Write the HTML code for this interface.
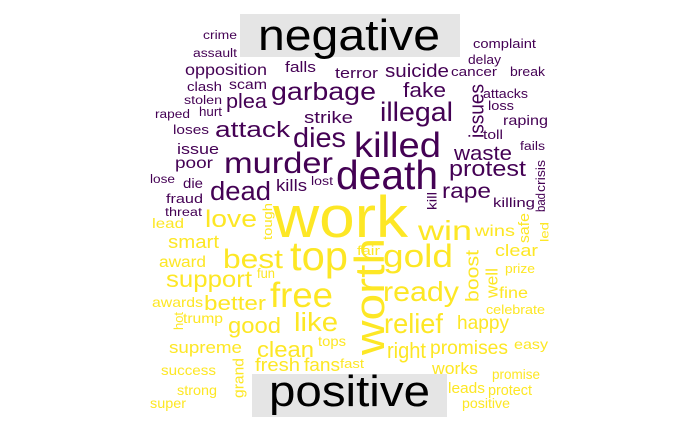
<!DOCTYPE html>
<html><head><meta charset="utf-8"><style>
html,body{margin:0;padding:0;background:#fff;}
svg{display:block;font-family:"Liberation Sans",Arial,sans-serif;}
</style></head><body>
<svg id="cloud" width="700" height="432" viewBox="0 0 700 432" xmlns="http://www.w3.org/2000/svg">
<rect x="240" y="14" width="220" height="43" fill="#e5e5e5"/>
<text x="258" y="50" font-size="44" textLength="182" lengthAdjust="spacingAndGlyphs" fill="#000">negative</text>
<rect x="252" y="374" width="195" height="43" fill="#e5e5e5"/>
<text x="269" y="406" font-size="44" textLength="161" lengthAdjust="spacingAndGlyphs" fill="#000">positive</text>
<g id="words"></g>
</svg>
<script>
// horizontal words: [word, left x, right x, baseline y, font size]
const negWords = [
["crime",203,237,39,13],["assault",193,237,57,13],["opposition",185,267,75,17],["falls",285,316,72,16],
["terror",335,378,78,16],["suicide",385,449,77,20],["cancer",451,497,76,14],["complaint",473,536,48,14],
["delay",468,501,64,14],["break",510,545,76,14],["clash",187,222,91,14],["scam",229,267,89,15],
["garbage",271,376,100,27],["stolen",184,222,104,13],["plea",226,267,108,22],["fake",403,446,97,22],
["attacks",483,528,98,14],["loss",488,514,110,14],["raping",503,548,125,15],["toll",483,503,139,14],
["illegal",380,453,121,29],["raped",155,190,118,13],["hurt",199,222,116,14],["strike",304,353,123,18],
["attack",215,290,137,24],["dies",293,346,147,30],["killed",354,441,157,38],["loses",173,209,134,14],
["issue",177,219,154,16],["fails",520,545,150,13],["waste",454,512,160,22],["poor",175,213,168,17],
["murder",224,333,173,32],["death",336,438,189,44],["protest",449,526,176,24],["lose",150,175,183,13],
["die",183,203,188,15],["kills",276,307,191,18],["lost",311,333,185,13],["dead",210,271,200,28],
["rape",442,491,198,23],["killing",493,535,207,14],["fraud",166,203,203,14],["threat",165,202,216,13]
];
const posWords = [
["work",273,408,237,64],["love",205,257,227,26],["lead",152,184,228,15],["win",418,472,240,30],
["wins",475,515,236,17],["smart",168,219,248,20],["best",223,283,268,29],["top",290,348,270,44],
["fair",357,380,255,14],["gold",383,453,267,35],["clear",495,538,256,18],["award",159,206,267,17],
["prize",505,535,273,14],["support",166,252,287,25],["fun",257,275,278,15],["free",270,333,307,38],
["ready",383,459,301,30],["fine",499,528,298,17],["awards",152,203,307,15],["better",204,266,310,22],
["celebrate",486,545,314,14],["like",294,338,331,28],["relief",384,443,333,30],["trump",183,223,323,15],
["good",228,281,333,24],["happy",457,509,329,21],["supreme",169,242,353,18],["tops",318,346,346,15],
["clean",257,314,357,24],["right",387,426,358,24],["promises",430,508,354,21],["easy",514,548,349,15],
["fresh",255,300,371,20],["fans",304,340,371,20],["fast",340,364,368,14],["works",432,478,374,18],
["success",161,216,375,15],["promise",492,540,379,15],["strong",177,217,395,15],["leads",448,485,393,16],
["protect",488,532,395,16],["super",150,186,408,15],["positive",462,510,408,15]
];
// rotated words (reading upward): [word, left x, right x, top y, bottom y, font size]
const negRot = [["issues",472,483,84,138,20],["crisis",536,545,160,192,13],["bad",536,545,193,212,13],["kill",427,437,192,210,13]];
const posRot = [["tough",263,272,203,240,13],["safe",519,530,213,243,15],["led",541,548,222,242,12],
["worth",355,384,238,355,42],["boost",465,480,250,302,18],["well",486,498,268,298,17],["hot",174,183,312,330,13],["grand",234,244,358,398,15]];
const NEG="#440154", POS="#FDE725";
const SCALE=0.92;
const g=document.getElementById('words');
const NS="http://www.w3.org/2000/svg";
function addH(w,color){
  const t=document.createElementNS(NS,'text');
  t.setAttribute('x',w[1]);t.setAttribute('y',w[3]);
  t.setAttribute('font-size',w[4]*SCALE);t.setAttribute('fill',color);
  t.setAttribute('textLength',w[2]-w[1]);t.setAttribute('lengthAdjust','spacingAndGlyphs');
  t.textContent=w[0];
  
  
  g.appendChild(t);
}
function addR(w,color){
  const t=document.createElementNS(NS,'text');
  const cx=(w[1]+w[2])/2, cy=(w[3]+w[4])/2;
  t.setAttribute('x',cx);t.setAttribute('y',cy);
  t.setAttribute('font-size',w[5]);t.setAttribute('fill',color);
  t.setAttribute('text-anchor','middle');t.setAttribute('dominant-baseline','central');
  t.setAttribute('textLength',w[4]-w[3]);t.setAttribute('lengthAdjust','spacingAndGlyphs');
  t.setAttribute('transform','rotate(-90 '+cx+' '+cy+')');
  t.textContent=w[0];
  
  
  g.appendChild(t);
}
negWords.forEach(w=>addH(w,NEG));posWords.forEach(w=>addH(w,POS));
negRot.forEach(w=>addR(w,NEG));posRot.forEach(w=>addR(w,POS));
</script>
</body></html>
